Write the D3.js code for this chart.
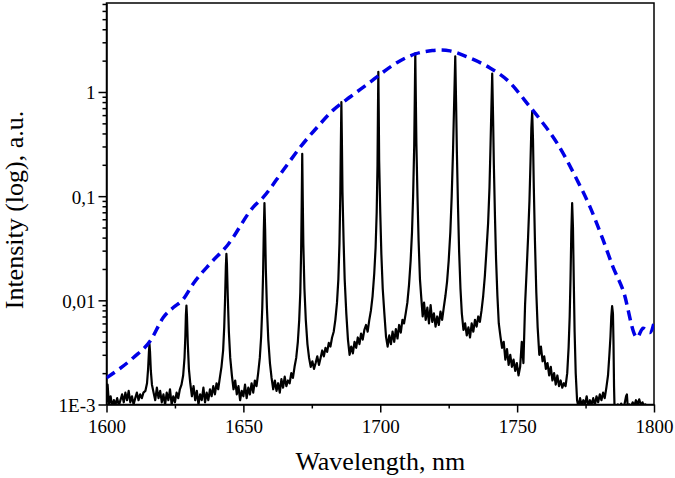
<!DOCTYPE html>
<html lang="en">
<head>
  <meta charset="UTF-8" />
  <title>Spectrum</title>
  <style>
    body { margin: 0; background: #fff; }
    svg { display: block; }
    svg text { font-family: "Liberation Serif", "Times New Roman", Times, "DejaVu Serif", serif !important; fill: #000; }
    .tick text { font-size: 19px; }
    .axis path, .axis line { stroke: #000; stroke-width: 1.5px; }
    .frame { fill: none; stroke: #000; stroke-width: 1.5px; }
    .spectrum { fill: none; stroke: #000; stroke-width: 2.2px; stroke-linejoin: round; }
    .envelope { fill: none; stroke: #0000e6; stroke-width: 3.5px; stroke-dasharray: 10,6; }
    .title { font-size: 26px; }
  </style>
  <script src="https://d3js.org/d3.v7.min.js"></script>
</head>
<body>
  <div id="chart"></div>
  <script type="text/javascript">
    // axis ticks
    const xTicks = [1600, 1650, 1700, 1750, 1800];
    const xMinorTicks = [1625, 1675, 1725, 1775];
    const yTicks = [0.001, 0.01, 0.1, 1];
    const yTickLabels = ["1E-3", "0,01", "0,1", "1"];

    // measured spectrum: [wavelength nm, intensity x 1e-3 a.u.]
    const spectrumMilli = [
      [1600.0,1.05],[1600.4,1.55],[1600.9,1.0],[1601.5,1.2],[1602.1,0.95],[1602.7,1.1],[1603.3,1.0],[1603.9,1.15],
      [1604.5,0.98],[1605.1,1.1],[1605.7,1.25],[1606.3,1.05],[1606.9,1.3],[1607.5,1.1],[1608.1,1.35],[1608.7,1.05],
      [1609.3,1.2],[1609.9,1.0],[1610.5,1.15],[1611.1,1.3],[1611.7,1.1],[1612.3,1.25],[1612.9,1.15],[1613.5,1.3],
      [1614.2,1.35],[1614.8,1.6],[1615.2,2.2],[1615.5,3.2],[1615.7,3.8],[1615.9,3.2],[1616.2,2.1],[1616.6,1.55],[1617.2,1.3],
      [1617.8,1.1],[1618.4,1.45],[1619.0,1.15],[1619.6,1.35],[1620.2,1.05],[1620.8,1.25],[1621.4,1.0],[1622.0,1.3],
      [1622.6,1.1],[1623.2,1.4],[1623.8,1.0],[1624.4,1.2],[1625.0,1.05],[1625.6,1.3],[1626.2,1.15],[1626.8,1.4],
      [1627.4,1.55],[1628.0,1.9],[1628.5,2.8],[1628.8,4.5],[1629.0,7.2],[1629.2,8.9],[1629.4,7.0],[1629.7,3.8],
      [1630.1,2.2],[1630.6,1.6],
      [1631.2,1.2],[1631.8,1.5],[1632.4,1.1],[1633.0,1.35],[1633.6,1.0],[1634.2,1.25],[1634.8,1.1],[1635.4,1.45],
      [1636.0,1.05],[1636.6,1.3],[1637.2,1.1],[1637.8,1.4],[1638.4,1.2],[1639.0,1.5],[1639.6,1.25],[1640.2,1.6],
      [1640.8,1.4],[1641.4,1.8],[1642.0,2.3],[1642.6,3.3],[1643.0,5.5],[1643.3,10],[1643.6,21],[1643.8,28],
      [1644.0,22],[1644.3,11],[1644.7,5],[1645.2,2.8],[1645.8,1.9],
      [1646.4,1.4],[1647.0,1.7],[1647.6,1.25],[1648.2,1.5],[1648.8,1.1],[1649.4,1.35],[1650.0,1.2],[1650.6,1.55],
      [1651.2,1.15],[1651.8,1.45],[1652.4,1.25],[1653.0,1.6],[1653.6,1.3],[1654.2,1.7],[1654.8,1.5],[1655.4,2.0],
      [1656.0,2.8],[1656.5,4.5],[1656.9,8.5],[1657.2,18],[1657.45,45],[1657.7,86],[1657.95,48],[1658.2,20],
      [1658.6,8.5],[1659.1,4.2],[1659.7,2.5],
      [1660.3,1.8],[1660.9,1.4],[1661.5,1.7],[1662.1,1.35],[1662.7,1.6],[1663.3,1.3],[1663.9,1.75],[1664.5,1.45],
      [1665.1,1.85],[1665.7,1.5],[1666.3,1.7],[1666.9,1.6],[1667.5,2.0],[1668.1,1.8],[1668.7,2.3],[1669.3,2.8],
      [1669.9,4.0],[1670.4,6.5],[1670.8,12],[1671.1,30],[1671.3,80],[1671.5,255],[1671.7,90],[1671.9,35],
      [1672.3,13],[1672.8,6.5],[1673.4,3.8],[1674.0,2.8],
      [1674.6,2.3],[1675.2,2.6],[1675.8,2.2],[1676.4,2.5],[1677.0,2.9],[1677.6,2.4],[1678.2,2.8],[1678.8,3.3],
      [1679.4,2.9],[1680.0,3.5],[1680.6,3.2],[1681.2,3.9],[1681.8,3.6],[1682.4,4.4],[1683.0,5.0],[1683.6,6.5],
      [1684.2,9.5],[1684.7,16],[1685.1,35],[1685.4,100],[1685.6,300],[1685.8,800],[1686.0,320],[1686.2,110],
      [1686.6,38],[1687.0,16],[1687.6,7.5],
      [1688.2,4.2],[1688.8,3.0],[1689.4,3.6],[1690.0,3.1],[1690.6,4.0],[1691.2,3.5],[1691.8,4.4],[1692.4,3.8],
      [1693.0,4.8],[1693.6,4.2],[1694.2,5.2],[1694.8,5.8],[1695.4,5.0],[1696.0,6.5],[1696.6,8.0],[1697.2,11],
      [1697.8,18],[1698.3,32],[1698.7,70],[1699.0,200],[1699.15,600],[1699.3,1560],[1699.45,650],[1699.6,220],
      [1700.0,70],[1700.4,28],[1700.9,13],[1701.5,7.5],
      [1702.1,4.5],[1702.7,3.6],[1703.3,4.6],[1703.9,3.8],[1704.5,5.0],[1705.1,4.0],[1705.7,5.3],[1706.3,4.3],
      [1706.9,5.8],[1707.5,4.9],[1708.1,6.5],[1708.7,6.0],[1709.3,7.5],[1709.9,9.5],[1710.5,14],[1711.1,24],
      [1711.6,45],[1712.0,100],[1712.4,300],[1712.6,800],[1712.8,2350],[1713.0,850],[1713.2,320],[1713.6,100],
      [1714.0,38],[1714.5,16],
      [1715.0,10.5],[1715.5,7.0],[1716.0,9.5],[1716.6,6.5],[1717.2,8.5],[1717.8,6.0],[1718.4,9.0],[1719.0,6.2],
      [1719.6,7.5],[1720.2,5.6],[1720.8,7.0],[1721.4,5.8],[1722.0,7.8],[1722.6,6.5],[1723.2,8.5],[1723.8,11],
      [1724.4,15],[1725.0,24],[1725.6,45],[1726.1,100],[1726.6,280],[1727.0,800],[1727.4,2200],[1727.7,800],
      [1728.0,260],[1728.4,80],[1728.8,30],[1729.3,13],
      [1729.8,7.5],[1730.4,5.2],[1731.0,6.0],[1731.6,4.6],[1732.2,5.5],[1732.8,4.4],[1733.4,6.0],[1734.0,5.0],
      [1734.6,6.5],[1735.2,5.6],[1735.8,7.0],[1736.4,6.2],[1737.0,8.0],[1737.6,11],[1738.2,17],[1738.8,30],
      [1739.4,55],[1739.9,120],[1740.3,320],[1740.6,700],[1740.9,1500],[1741.2,600],[1741.5,200],[1741.9,65],
      [1742.3,25],[1742.8,11],
      [1743.3,6.0],[1743.9,4.5],[1744.5,3.5],[1745.1,4.0],[1745.7,2.7],[1746.3,3.4],[1746.9,2.4],[1747.5,3.0],
      [1748.1,2.3],[1748.7,2.7],[1749.3,2.1],[1749.9,2.5],[1750.5,1.9],[1751.1,2.3],[1751.7,4.0],[1752.3,2.5],
      [1752.9,9],[1753.5,20],[1754.0,40],[1754.5,90],[1754.9,220],[1755.2,450],[1755.5,650],[1755.8,350],
      [1756.1,120],[1756.5,38],[1757.0,12],[1757.5,5.5],
      [1758.1,3.0],[1758.7,3.6],[1759.3,2.6],[1759.9,2.9],[1760.5,2.2],[1761.1,2.5],[1761.7,1.9],[1762.3,2.3],
      [1762.9,1.7],[1763.5,2.0],[1764.1,1.55],[1764.7,1.9],[1765.3,1.5],[1765.9,1.7],[1766.5,1.45],[1767.1,1.6],
      [1767.7,1.5],[1768.3,2.0],[1768.8,3.5],[1769.2,7],[1769.5,16],[1769.8,45],[1770.1,86],[1770.4,50],
      [1770.7,15],[1771.0,5],[1771.4,2.0],[1771.9,1.1],
      [1772.4,0.95],[1773.0,1.15],[1773.6,0.98],[1774.2,1.1],[1774.8,1.0],[1775.4,1.2],[1776.0,0.97],[1776.6,1.1],
      [1777.2,1.0],[1777.8,1.15],[1778.4,0.98],[1779.0,1.2],[1779.6,1.05],[1780.2,1.25],[1780.8,1.1],[1781.4,1.3],
      [1782.0,1.15],[1782.6,1.45],[1783.2,1.9],[1783.7,3.0],[1784.1,4.5],[1784.4,7.0],[1784.7,8.8],[1785.0,7.5],
      [1785.2,4.0],[1785.4,1.5],[1785.6,0.9],
      [1786.2,0.95],[1786.8,1.0],[1787.4,0.9],[1788.0,1.02],[1788.6,0.95],[1789.2,1.0],[1789.8,1.2],[1790.1,1.25],
      [1790.4,0.95],[1791.0,1.0],[1791.6,0.95],[1792.2,1.05],[1792.8,0.97],[1793.4,1.1],[1794.0,1.0],[1794.6,1.12],
      [1795.2,0.98],[1795.8,1.05],[1796.4,0.95],[1797.0,1.02]
    ];

    // gain envelope (dashed): [wavelength nm, intensity a.u.]
    const envelope = [
      [1600.0,0.0018],[1609.9,0.00283],[1616.1,0.00412],[1620.8,0.00687],[1624.5,0.00857],[1627.7,0.0100],
      [1631.8,0.0146],[1638.0,0.0227],[1644.2,0.0338],[1653.6,0.0784],[1657.3,0.098],[1664.6,0.178],
      [1670.8,0.296],[1677.0,0.46],[1682.8,0.67],[1689.1,0.90],[1696.4,1.25],[1700.0,1.48],[1706.2,1.92],
      [1712.8,2.32],[1719.0,2.50],[1721.9,2.53],[1725.5,2.48],[1731.8,2.17],[1740.1,1.70],[1746.4,1.30],
      [1754.7,0.72],[1757.7,0.575],[1764.6,0.323],[1771.9,0.143],[1776.7,0.078],[1781.4,0.038],[1785.0,0.021],
      [1788.7,0.0125],[1793.8,0.0044],[1796.0,0.0054],[1798.5,0.0049],[1800.4,0.0067]
    ];

    const W = 675, H = 478;
    const margin = { top: 3, right: 21, bottom: 73.5, left: 106.5 };
    const width = W - margin.left - margin.right,
          height = H - margin.top - margin.bottom;

    const svg = d3.select("#chart").append("svg")
      .attr("width", W)
      .attr("height", H);

    const g = svg.append("g")
      .attr("transform", `translate(${margin.left},${margin.top})`);

    const x = d3.scaleLinear().domain([1600, 1800]).range([0, width]);
    const y = d3.scaleLog().domain([0.001, 7.15]).range([height, 0]);

    g.append("clipPath").attr("id", "plot-clip")
      .append("rect").attr("width", width).attr("height", height);

    // minor log ticks on y
    const yMinor = [];
    [0.001, 0.01, 0.1, 1].forEach(dec => {
      for (let k = 2; k <= 9; k++) {
        const v = dec * k;
        if (v <= 7.15) yMinor.push(v);
      }
    });

    g.append("g").attr("class", "axis")
      .attr("transform", `translate(0,${height})`)
      .call(d3.axisBottom(x).tickValues(xMinorTicks).tickSize(4).tickFormat(""))
      .call(a => a.select(".domain").remove());

    g.append("g").attr("class", "axis")
      .attr("transform", `translate(0,${height})`)
      .call(d3.axisBottom(x).tickValues(xTicks).tickSize(8).tickSizeOuter(0).tickPadding(7)
        .tickFormat(d => d));

    g.append("g").attr("class", "axis")
      .call(d3.axisLeft(y).tickValues(yMinor).tickSize(4).tickFormat(""))
      .call(a => a.select(".domain").remove());

    g.append("g").attr("class", "axis")
      .call(d3.axisLeft(y).tickValues(yTicks).tickSize(8).tickSizeOuter(0).tickPadding(3)
        .tickFormat((d, i) => yTickLabels[i]))
      .call(a => a.selectAll(".tick text").attr("dy", "0.36em"));

    g.selectAll(".axis").attr("font-family", null);

    g.append("rect").attr("class", "frame")
      .attr("width", width).attr("height", height);

    const plot = g.append("g").attr("clip-path", "url(#plot-clip)");

    plot.append("path")
      .datum(spectrumMilli)
      .attr("class", "spectrum")
      .attr("d", d3.line()
        .x(d => x(d[0]))
        .y(d => y(d[1] / 1000)));

    plot.append("path")
      .datum(envelope)
      .attr("class", "envelope")
      .attr("d", d3.line()
        .curve(d3.curveMonotoneX)
        .x(d => x(d[0]))
        .y(d => y(d[1])));

    svg.append("text")
      .attr("class", "title")
      .attr("x", margin.left + width / 2)
      .attr("y", 470)
      .attr("text-anchor", "middle")
      .text("Wavelength, nm");

    svg.append("text")
      .attr("class", "title")
      .attr("transform", "translate(23,210) rotate(-90)")
      .attr("text-anchor", "middle")
      .text("Intensity (log), a.u.");
  </script>
</body>
</html>
